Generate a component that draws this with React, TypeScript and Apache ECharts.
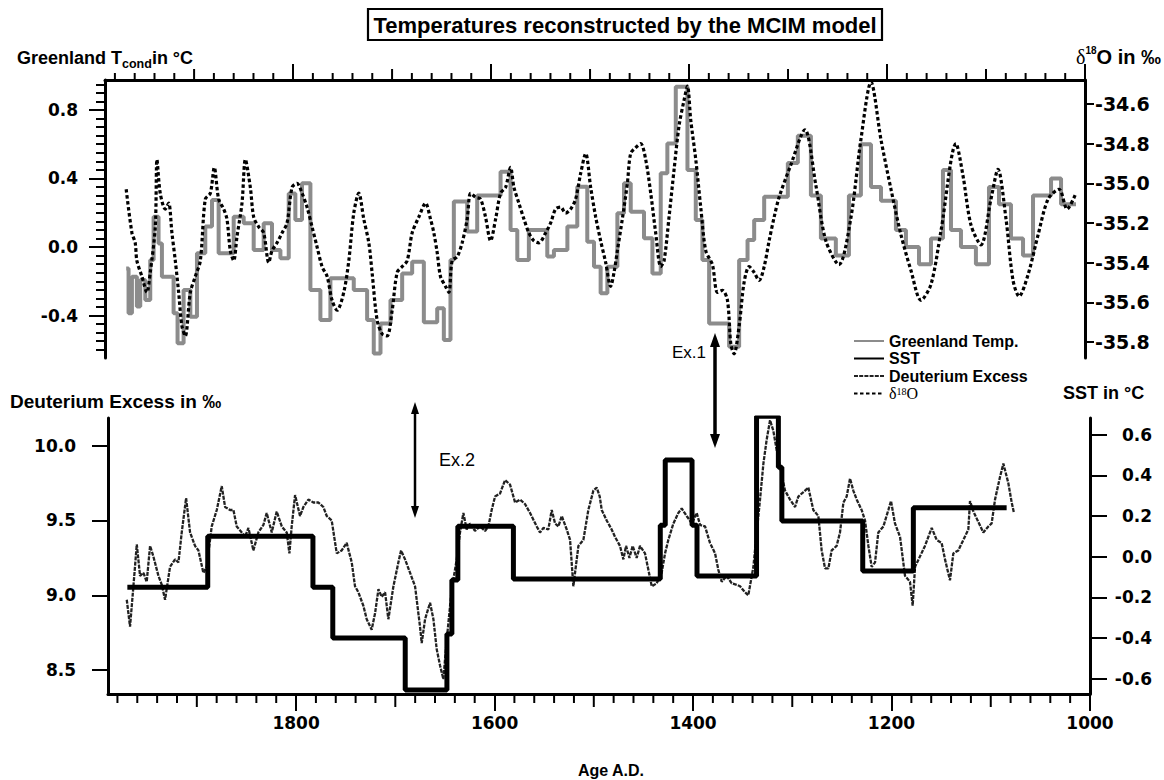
import React, { useEffect, useRef } from "react";
import * as echarts from "echarts";

// ---------- data ----------
// Greenland temperature: [start year of level, value °C]; the last level ends at greenlandEnd
const greenlandSteps: [number, number][] = [
  [1968.6, -0.125], [1966.2, -0.387], [1962.8, -0.173], [1957.8, -0.348], [1954.4, -0.193],
  [1949.3, -0.31], [1944.3, -0.076], [1940.9, 0.177], [1935.9, 0.021], [1932.5, -0.173],
  [1920.7, -0.387], [1916.7, -0.562], [1910.6, -0.251], [1903.8, -0.407], [1897.1, -0.037],
  [1888.7, 0.119], [1881.9, 0.274], [1875.2, -0.037], [1860.0, 0.177], [1849.9, 0.138],
  [1839.8, -0.018], [1829.7, 0.138], [1821.3, -0.018], [1812.8, -0.066], [1804.4, 0.313],
  [1797.7, 0.158], [1791.0, 0.372], [1782.5, -0.251], [1772.4, -0.426], [1762.3, -0.183],
  [1738.7, -0.251], [1725.2, -0.426], [1718.5, -0.621], [1711.7, -0.446], [1701.6, -0.31],
  [1689.8, -0.154], [1679.7, -0.086], [1667.9, -0.44], [1654.4, -0.358], [1647.7, -0.543],
  [1641.0, -0.076], [1637.6, 0.265], [1624.1, 0.09], [1614.0, 0.30], [1590.4, 0.44],
  [1580.3, 0.10], [1573.5, -0.076], [1561.8, 0.10], [1543.2, -0.056], [1536.5, -0.018],
  [1522.9, 0.119], [1512.9, 0.352], [1502.8, 0.031], [1496.0, -0.115], [1489.3, -0.27],
  [1482.5, -0.115], [1472.4, 0.197], [1465.7, 0.372], [1458.9, 0.206], [1445.5, 0.051],
  [1437.0, -0.154], [1428.6, 0.43], [1421.9, 0.605], [1413.4, 0.936], [1401.6, 0.45],
  [1393.2, 0.158], [1386.5, -0.076], [1379.7, -0.446], [1359.5, -0.582], [1349.4, -0.076],
  [1340.9, 0.041], [1334.2, 0.158], [1324.1, 0.294], [1300.2, 0.49], [1290.1, 0.65],
  [1276.9, 0.30], [1266.8, 0.05], [1251.7, -0.05], [1238.5, 0.30], [1226.4, 0.60],
  [1216.2, 0.35], [1206.1, 0.27], [1191.0, 0.10], [1180.9, 0.0], [1167.7, -0.10],
  [1155.6, 0.05], [1143.5, 0.45], [1135.4, 0.10], [1125.3, 0.0], [1110.2, -0.10],
  [1097.0, 0.35], [1086.9, 0.25], [1074.8, 0.05], [1062.6, -0.05], [1052.5, 0.30],
  [1034.3, 0.40], [1024.2, 0.25],
];
const greenlandEnd = 1009.1;

// delta 18O (per mil): [year, value]
const d18O: [number, number][] = [
  [1968.6, -35.03], [1962.8, -35.25], [1959.5, -35.30], [1957.8, -35.39], [1952.7, -35.47],
  [1947.7, -35.55], [1944.3, -35.45], [1939.2, -35.22], [1937.5, -34.88], [1934.2, -35.05],
  [1929.1, -35.13], [1925.7, -35.10], [1922.4, -35.25], [1919.0, -35.39], [1915.6, -35.55],
  [1912.3, -35.72], [1908.9, -35.77], [1903.8, -35.55], [1898.8, -35.47], [1893.7, -35.39],
  [1888.7, -35.08], [1883.6, -35.05], [1879.6, -34.92], [1875.2, -35.08], [1870.1, -35.13],
  [1866.8, -35.18], [1863.4, -35.34], [1860.0, -35.39], [1856.7, -35.27], [1851.6, -35.10],
  [1848.2, -34.88], [1843.2, -35.02], [1839.8, -35.17], [1834.7, -35.22], [1829.7, -35.25],
  [1824.6, -35.40], [1821.3, -35.34], [1816.2, -35.30], [1811.1, -35.25], [1806.1, -35.20],
  [1801.0, -35.02], [1796.0, -35.00], [1790.9, -35.05], [1785.9, -35.12], [1780.8, -35.22],
  [1775.8, -35.32], [1770.7, -35.42], [1765.6, -35.47], [1760.6, -35.59], [1755.5, -35.64],
  [1748.8, -35.55], [1743.7, -35.39], [1738.7, -35.15], [1733.6, -35.05], [1728.6, -35.18],
  [1723.5, -35.30], [1720.2, -35.45], [1715.1, -35.69], [1710.0, -35.76], [1705.0, -35.77],
  [1699.9, -35.64], [1694.9, -35.45], [1689.8, -35.42], [1684.7, -35.39], [1679.7, -35.25],
  [1673.0, -35.17], [1666.2, -35.10], [1661.2, -35.18], [1657.8, -35.25], [1654.4, -35.35],
  [1651.1, -35.47], [1646.0, -35.52], [1642.6, -35.55], [1639.3, -35.39], [1634.2, -35.37],
  [1629.2, -35.30], [1624.1, -35.18], [1620.7, -35.05], [1615.7, -35.07], [1610.6, -35.08],
  [1605.6, -35.17], [1600.5, -35.29], [1595.4, -35.18], [1590.4, -35.05], [1585.3, -35.02],
  [1580.3, -34.92], [1576.9, -35.02], [1571.9, -35.10], [1566.8, -35.18], [1561.8, -35.25],
  [1556.7, -35.29], [1551.6, -35.30], [1544.9, -35.25], [1539.8, -35.20], [1534.8, -35.13],
  [1529.7, -35.12], [1524.7, -35.15], [1519.6, -35.13], [1514.6, -35.08], [1509.5, -34.95],
  [1504.4, -34.85], [1499.4, -35.02], [1494.3, -35.17], [1489.3, -35.29], [1484.2, -35.40],
  [1479.2, -35.52], [1475.8, -35.45], [1472.4, -35.34], [1467.4, -35.18], [1462.3, -35.00],
  [1459.0, -34.85], [1453.9, -34.82], [1448.8, -34.80], [1443.8, -34.88], [1438.7, -35.05],
  [1433.7, -35.25], [1428.6, -35.42], [1425.2, -35.39], [1420.2, -35.17], [1415.1, -34.93],
  [1410.1, -34.71], [1405.0, -34.58], [1401.6, -34.51], [1398.3, -34.68], [1393.2, -34.88],
  [1388.2, -35.12], [1383.1, -35.34], [1376.4, -35.41], [1371.3, -35.55], [1366.3, -35.54],
  [1361.2, -35.59], [1357.8, -35.81], [1354.5, -35.86], [1349.4, -35.72], [1344.4, -35.50],
  [1339.3, -35.42], [1334.2, -35.45], [1329.2, -35.49], [1324.1, -35.42], [1319.1, -35.29],
  [1314.0, -35.17], [1309.0, -35.07], [1297.4, -34.91], [1283.0, -34.73], [1271.9, -35.01],
  [1261.8, -35.29], [1248.6, -35.41], [1236.7, -35.18], [1226.4, -34.78], [1216.2, -34.49],
  [1206.1, -34.78], [1196.0, -35.03], [1185.9, -35.26], [1175.8, -35.44], [1165.7, -35.59],
  [1155.6, -35.51], [1145.5, -35.24], [1130.3, -34.80], [1123.3, -34.96], [1115.2, -35.21],
  [1105.1, -35.31], [1095.0, -35.08], [1087.9, -34.93], [1079.8, -35.18], [1072.7, -35.49],
  [1066.6, -35.57], [1057.5, -35.46], [1047.4, -35.26], [1037.3, -35.08], [1026.2, -35.03],
  [1018.1, -35.13], [1010.0, -35.06],
];

// Deuterium excess (per mil): [year, value]
const deuteriumExcess: [number, number][] = [
  [1970.6, 8.97], [1967.3, 8.79], [1963.9, 9.06], [1960.5, 9.34], [1957.2, 9.13], [1953.8, 9.15],
  [1950.5, 9.09], [1947.1, 9.33], [1943.8, 9.26], [1938.7, 9.13], [1935.3, 9.07], [1932.0, 8.97],
  [1927.0, 9.19], [1921.9, 9.24], [1918.5, 9.22], [1915.2, 9.42], [1910.8, 9.65], [1906.8, 9.42],
  [1901.8, 9.33], [1898.4, 9.30], [1893.4, 9.15], [1890.0, 9.19], [1885.0, 9.46], [1879.9, 9.57],
  [1874.9, 9.73], [1871.5, 9.59], [1866.5, 9.57], [1863.1, 9.57], [1859.8, 9.46], [1854.7, 9.42],
  [1851.4, 9.39], [1848.0, 9.45], [1843.0, 9.30], [1838.0, 9.42], [1832.9, 9.47], [1829.6, 9.55],
  [1824.5, 9.42], [1819.5, 9.56], [1814.4, 9.46], [1809.4, 9.42], [1806.7, 9.28], [1804.4, 9.46],
  [1801.0, 9.67], [1796.0, 9.53], [1792.6, 9.59], [1787.6, 9.64], [1782.5, 9.62], [1777.5, 9.62],
  [1772.5, 9.59], [1769.1, 9.53], [1764.1, 9.50], [1759.0, 9.28], [1754.0, 9.30], [1749.0, 9.35],
  [1743.9, 9.22], [1740.6, 9.06], [1737.2, 9.02], [1732.2, 8.93], [1728.8, 8.84], [1723.8, 8.77],
  [1720.4, 8.88], [1717.0, 9.04], [1713.7, 8.99], [1710.3, 9.02], [1707.0, 8.84], [1701.9, 9.06],
  [1696.9, 9.22], [1694.2, 9.30], [1690.2, 9.24], [1685.1, 9.15], [1680.1, 9.06], [1675.1, 8.79],
  [1673.4, 8.68], [1670.0, 8.84], [1665.0, 8.95], [1661.6, 8.84], [1658.3, 8.64], [1654.9, 8.53],
  [1651.6, 8.44], [1648.2, 8.70], [1643.2, 9.04], [1638.1, 9.24], [1634.8, 9.42], [1631.4, 9.55],
  [1628.1, 9.44], [1624.7, 9.48], [1619.7, 9.43], [1614.6, 9.46], [1609.6, 9.43], [1606.2, 9.46],
  [1602.9, 9.57], [1599.5, 9.66], [1594.5, 9.68], [1589.4, 9.77], [1584.4, 9.74], [1579.3, 9.62],
  [1574.3, 9.64], [1569.3, 9.61], [1564.2, 9.55], [1557.5, 9.46], [1554.2, 9.42], [1550.8, 9.45],
  [1545.8, 9.44], [1542.4, 9.57], [1539.0, 9.48], [1535.7, 9.46], [1532.3, 9.53], [1527.3, 9.44],
  [1523.9, 9.37], [1520.6, 9.06], [1518.9, 9.15], [1515.5, 9.33], [1510.5, 9.37], [1505.5, 9.57],
  [1500.4, 9.70], [1497.0, 9.72], [1494.0, 9.66], [1492.0, 9.57], [1487.0, 9.50], [1482.0, 9.44],
  [1478.6, 9.39], [1473.6, 9.33], [1470.2, 9.24], [1467.5, 9.33], [1464.1, 9.25], [1460.8, 9.33],
  [1456.8, 9.25], [1453.4, 9.33], [1448.4, 9.28], [1445.0, 9.17], [1441.6, 9.06], [1436.6, 9.08],
  [1431.6, 9.15], [1428.2, 9.28], [1424.9, 9.37], [1419.8, 9.48], [1414.8, 9.55], [1411.4, 9.58],
  [1406.4, 9.53], [1401.3, 9.48], [1396.3, 9.55], [1392.9, 9.47], [1387.9, 9.46], [1382.9, 9.35],
  [1377.8, 9.28], [1374.5, 9.17], [1371.1, 9.09], [1366.1, 9.13], [1361.0, 9.08], [1356.0, 9.07],
  [1352.6, 9.06], [1347.6, 9.02], [1344.3, 9.00], [1339.2, 9.19], [1335.8, 9.42], [1332.5, 9.64],
  [1329.1, 9.88], [1325.8, 10.04], [1322.4, 10.17], [1319.1, 10.10], [1315.7, 9.97], [1312.4, 9.86],
  [1307.3, 9.70], [1302.3, 9.64], [1297.2, 9.59], [1293.9, 9.66], [1288.8, 9.69], [1283.8, 9.72],
  [1278.8, 9.57], [1273.7, 9.53], [1270.4, 9.30], [1267.0, 9.18], [1263.6, 9.18], [1260.3, 9.30],
  [1255.3, 9.33], [1251.9, 9.42], [1248.5, 9.62], [1245.2, 9.66], [1241.8, 9.78], [1238.5, 9.70],
  [1235.1, 9.64], [1230.1, 9.57], [1226.7, 9.50], [1223.3, 9.33], [1220.0, 9.19], [1216.6, 9.22],
  [1213.3, 9.42], [1208.2, 9.46], [1203.2, 9.57], [1200.5, 9.63], [1196.5, 9.48], [1191.4, 9.39],
  [1186.4, 9.13], [1181.4, 9.09], [1178.7, 8.93], [1176.3, 9.19], [1171.3, 9.26], [1166.3, 9.33],
  [1162.9, 9.39], [1159.5, 9.45], [1154.5, 9.37], [1149.5, 9.35], [1146.1, 9.24], [1141.1, 9.10],
  [1137.7, 9.28], [1132.7, 9.30], [1127.6, 9.37], [1122.6, 9.44], [1120.9, 9.63], [1117.5, 9.56],
  [1112.5, 9.49], [1107.5, 9.42], [1102.4, 9.46], [1099.1, 9.48], [1095.7, 9.64], [1090.7, 9.79],
  [1087.3, 9.88], [1082.3, 9.75], [1078.9, 9.62], [1076.6, 9.55],
];

// SST (°C): [start year of level, value]; the last level ends at sstEnd
const sstSteps: [number, number][] = [
  [1970, -0.15], [1889, 0.10], [1783, -0.15], [1763, -0.40], [1690, -0.655], [1648, -0.38],
  [1643, -0.115], [1637, 0.15], [1581, -0.11], [1433, 0.155], [1428, 0.475], [1401, 0.155],
  [1396, -0.095], [1336, 0.69], [1314, 0.44], [1310.5, 0.175], [1229, -0.07], [1178, 0.24],
];
const sstEnd = 1084;

// tick values
const xMajorTicks = [1000, 1200, 1400, 1600, 1800];
const xMediumTicks = [1100, 1300, 1500, 1700, 1900];
const xMinorTicks = Array.from({ length: 50 }, (_, i) => 1000 + i * 20).filter((v) => v % 100 !== 0);
const tempTicks = [-0.4, 0, 0.4, 0.8];
const tempMinorTicks = Array.from({ length: 32 }, (_, i) => Math.round((-0.6 + i * 0.05) * 100) / 100);
const d18OTicks = [-35.8, -35.6, -35.4, -35.2, -35.0, -34.8, -34.6];
const deTicks = [8.5, 9.0, 9.5, 10.0];
const sstTicks = [-0.6, -0.4, -0.2, 0, 0.2, 0.4, 0.6];

function toSteps(steps: [number, number][], end: number): [number, number][] {
  const pts: [number, number][] = [];
  for (let i = 0; i < steps.length; i++) {
    const next = i + 1 < steps.length ? steps[i + 1][0] : end;
    pts.push([steps[i][0], steps[i][1]], [next, steps[i][1]]);
  }
  return pts;
}

const SANS = "Liberation Sans, Arial, Helvetica, sans-serif";
const TICKFONT = "DejaVu Sans, sans-serif";
const tickLabel = { fontFamily: TICKFONT, fontWeight: "bold" as const, fontSize: 17, color: "#000" };

// layout of the two panels
const TOP_GRID = { left: 105, top: 80, width: 980, height: 278 };
const BOT_GRID = { left: 108, top: 418, width: 982, height: 276 };

function xAxisDef(gridIndex: number, position: string, max: number, majorLen: number, labels: boolean) {
  return {
    type: "value",
    gridIndex,
    position,
    min: 1000,
    max,
    interval: 100,
    inverse: true,
    splitLine: { show: false },
    axisLine: { show: true, onZero: false, lineStyle: { color: "#000", width: 3 } },
    axisTick: { show: true, inside: false, customValues: xMajorTicks, length: majorLen, lineStyle: { color: "#000", width: 2 } },
    axisLabel: labels
      ? { show: true, customValues: xMajorTicks, formatter: (v: number) => String(Math.round(v)), margin: 20, ...tickLabel }
      : { show: false },
  };
}

function yAxisDef(
  gridIndex: number, position: string, min: number, max: number, ticks: number[], len: number,
  line: boolean, labels: any
) {
  return {
    type: "value",
    gridIndex,
    position,
    offset: 0,
    min,
    max,
    splitLine: { show: false },
    axisLine: { show: line, onZero: false, lineStyle: { color: "#000", width: 3 } },
    axisTick: { show: true, inside: false, customValues: ticks, length: len, lineStyle: { color: "#000", width: 2 } },
    axisLabel: labels ? { show: true, customValues: ticks, formatter: (v: number) => v.toFixed(1), ...tickLabel, ...labels } : { show: false },
  };
}

function arrow(x: number, y1: number, y2: number, head: number, half: number, w: number) {
  return [
    { type: "line", shape: { x1: x, y1: y1 + head - 2, x2: x, y2: y2 - head + 2 }, style: { stroke: "#000", lineWidth: w } },
    { type: "polygon", shape: { points: [[x, y1], [x - half, y1 + head], [x + half, y1 + head]] }, style: { fill: "#000" } },
    { type: "polygon", shape: { points: [[x, y2], [x - half, y2 - head], [x + half, y2 - head]] }, style: { fill: "#000" } },
  ];
}

export default function App() {
  const ref = useRef<HTMLDivElement>(null);
  useEffect(() => {
    if (!ref.current) return;
    const chart = echarts.init(ref.current, null, { renderer: "svg" });
    const baseGraphic: any[] = [
      { type: "rect", shape: { x: 368, y: 9, width: 514, height: 31 }, style: { fill: "none", stroke: "#000", lineWidth: 2.2 } },
      {
        type: "text", x: 625, y: 25,
        style: { text: "Temperatures reconstructed by the MCIM model", fontFamily: SANS, fontWeight: "bold", fontSize: 22, fill: "#000", align: "center", verticalAlign: "middle" },
      },
      {
        type: "text", x: 17, y: 58,
        style: {
          text: "{a|Greenland T}{s|cond}{a|in °C}", verticalAlign: "middle", fill: "#000",
          rich: {
            a: { fontFamily: SANS, fontWeight: "bold", fontSize: 18, lineHeight: 24, fill: "#000" },
            s: { fontFamily: SANS, fontWeight: "bold", fontSize: 12.5, lineHeight: 12, verticalAlign: "bottom", fill: "#000" },
          },
        },
      },
      {
        type: "text", x: 1161, y: 57,
        style: {
          text: "{g|δ}{sup|18}{a|O in ‰}", align: "right", verticalAlign: "middle", fill: "#000",
          rich: {
            g: { fontFamily: "Liberation Serif, serif", fontSize: 20, lineHeight: 24, fill: "#000" },
            sup: { fontFamily: SANS, fontWeight: "bold", fontSize: 10, lineHeight: 12, verticalAlign: "top", fill: "#000" },
            a: { fontFamily: SANS, fontWeight: "bold", fontSize: 20, lineHeight: 24, fill: "#000" },
          },
        },
      },
      {
        type: "text", x: 10, y: 401,
        style: { text: "Deuterium Excess in ‰", fontFamily: SANS, fontWeight: "bold", fontSize: 19, fill: "#000", verticalAlign: "middle" },
      },
      {
        type: "text", x: 1063, y: 393,
        style: { text: "SST in °C", fontFamily: SANS, fontWeight: "bold", fontSize: 18, fill: "#000", verticalAlign: "middle" },
      },
      {
        type: "text", x: 611, y: 770,
        style: { text: "Age A.D.", fontFamily: SANS, fontWeight: "bold", fontSize: 16, fill: "#000", align: "center", verticalAlign: "middle" },
      },
      {
        type: "text", x: 672, y: 352,
        style: { text: "Ex.1", fontFamily: SANS, fontSize: 17, fill: "#000", verticalAlign: "middle" },
      },
      {
        type: "text", x: 439, y: 460,
        style: { text: "Ex.2", fontFamily: SANS, fontSize: 18, fill: "#000", verticalAlign: "middle" },
      },
      ...arrow(715, 333, 448, 14, 5, 3.5),
      ...arrow(415, 402, 518, 12, 4, 2.5),
    ];
    const option: any = {
      animation: false,
      backgroundColor: "#fff",
      grid: [TOP_GRID, BOT_GRID],
      xAxis: [
        xAxisDef(0, "top", 1990, 16, false),
        xAxisDef(1, "bottom", 1989.5, 17, true),
      ],
      yAxis: [
        yAxisDef(0, "left", -0.648, 0.975, tempTicks, 16, true, { margin: 27 }),
        yAxisDef(0, "left", -0.648, 0.975, tempMinorTicks, 9, false, null),
        yAxisDef(0, "right", -35.881, -34.479, d18OTicks, 9, true, { margin: 10, fontSize: 19 }),
        yAxisDef(1, "left", 8.34, 10.185, deTicks, 16, true, { margin: 32 }),
        yAxisDef(1, "right", -0.6747, 0.6816, sstTicks, 17, true, { margin: 62, align: "right" }),
      ],
      legend: {
        show: true,
        orient: "vertical",
        left: 848,
        top: 328,
        itemWidth: 30,
        itemHeight: 12,
        itemGap: 1.5,
        itemStyle: { opacity: 0 },
        data: ["Greenland Temp.", "SST", "Deuterium Excess", "δ18O"],
        formatter: (n: string) => (n === "δ18O" ? "{g|δ}{sup|18}{g|O}" : n),
        textStyle: {
          fontFamily: SANS,
          fontWeight: "bold",
          fontSize: 16,
          color: "#000",
          rich: {
            g: { fontFamily: "Liberation Serif, serif", fontWeight: "normal", fontSize: 16, color: "#000", lineHeight: 15 },
            sup: { fontFamily: "Liberation Serif, serif", fontWeight: "normal", fontSize: 10, color: "#000", lineHeight: 8, verticalAlign: "top" },
          },
        },
      },
      series: [
        {
          name: "Greenland Temp.",
          type: "line",
          xAxisIndex: 0,
          yAxisIndex: 0,
          data: toSteps(greenlandSteps, greenlandEnd),
          symbol: "none",
          lineStyle: { color: "#8c8c8c", width: 4 },
          itemStyle: { color: "#8c8c8c" },
          z: 2,
        },
        {
          name: "δ18O",
          type: "line",
          xAxisIndex: 0,
          yAxisIndex: 2,
          data: d18O,
          symbol: "none",
          smooth: 0.3,
          lineStyle: { color: "#000", width: 3.2, type: [3.5, 2.5] },
          itemStyle: { color: "#000" },
          z: 3,
        },
        {
          name: "Deuterium Excess",
          type: "line",
          xAxisIndex: 1,
          yAxisIndex: 3,
          data: deuteriumExcess,
          symbol: "none",
          lineStyle: { color: "#222", width: 2.3, type: [4, 1.2] },
          itemStyle: { color: "#222" },
          z: 2,
        },
        {
          name: "SST",
          type: "line",
          xAxisIndex: 1,
          yAxisIndex: 4,
          data: toSteps(sstSteps, sstEnd),
          symbol: "none",
          lineStyle: { color: "#000", width: 5 },
          itemStyle: { color: "#000" },
          z: 4,
        },
      ],
      graphic: { elements: baseGraphic },
    };
    chart.setOption(option);

    // secondary (100-year) and minor (20-year) ticks, positioned through the axis scales
    const tickEls: any[] = [];
    const addTicks = (xAxisIndex: number, years: number[], yBase: number, len: number, dir: number, w: number) => {
      years.forEach((yr) => {
        const px = chart.convertToPixel({ xAxisIndex } as any, yr) as unknown as number;
        if (typeof px !== "number" || isNaN(px)) return;
        tickEls.push({
          type: "line",
          silent: true,
          shape: { x1: px, y1: yBase, x2: px, y2: yBase + dir * len },
          style: { stroke: "#000", lineWidth: w },
        });
      });
    };
    const topY = TOP_GRID.top;
    const botY = BOT_GRID.top + BOT_GRID.height;
    addTicks(0, xMediumTicks, topY, 11, -1, 2);
    addTicks(0, xMinorTicks, topY, 7, -1, 2);
    addTicks(1, xMediumTicks, botY, 13, 1, 2);
    addTicks(1, xMinorTicks, botY, 9, 1, 2);
    chart.setOption({ graphic: { elements: [...baseGraphic, ...tickEls] } });

    return () => chart.dispose();
  }, []);
  return (
    <div
      ref={ref}
      style={{ position: "absolute", left: 0, top: 0, width: 1164, height: 780, background: "#fff" }}
    />
  );
}
